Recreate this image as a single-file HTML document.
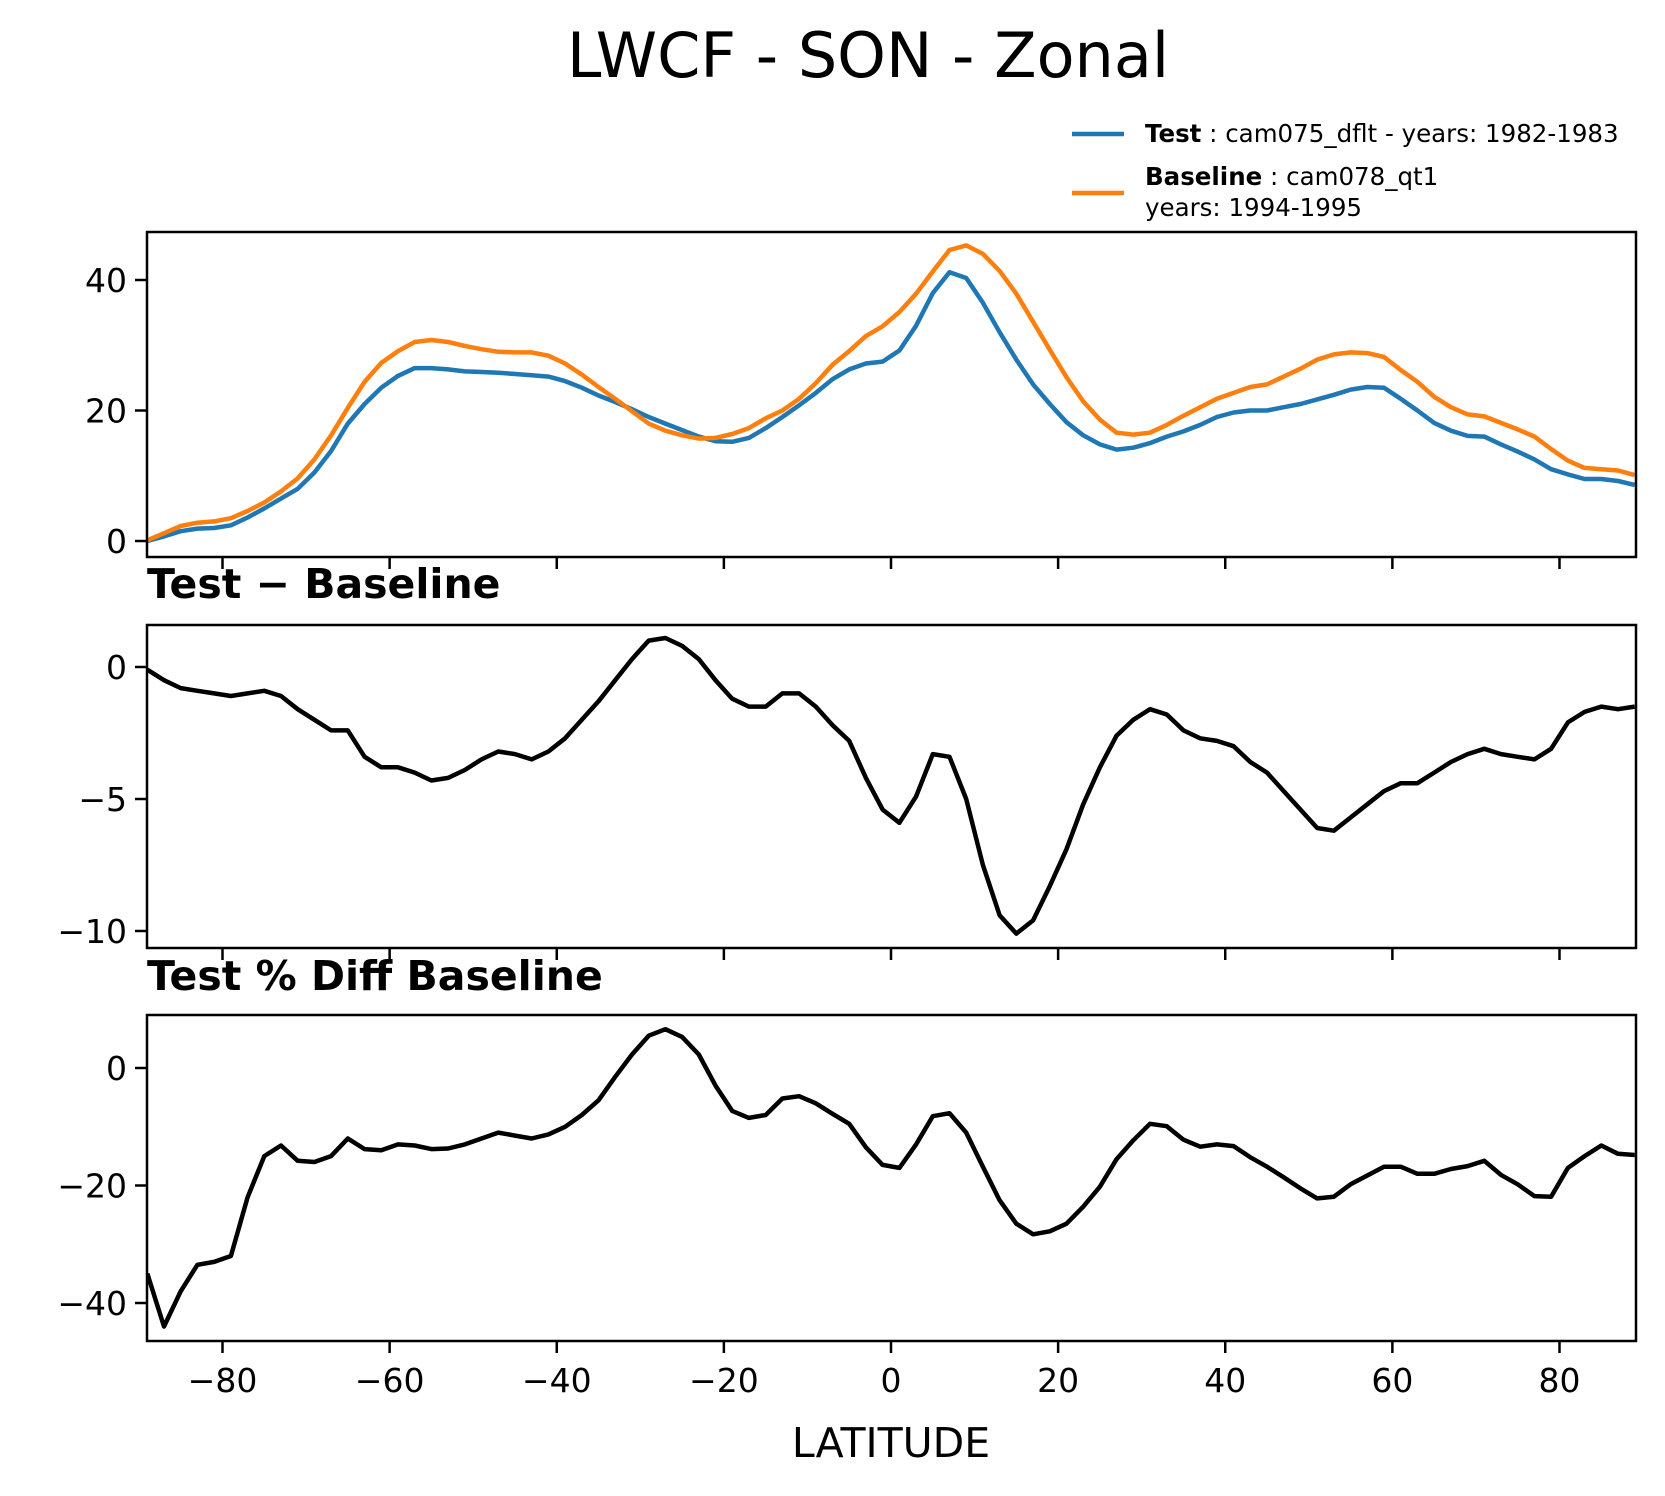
<!DOCTYPE html>
<html><head><meta charset="utf-8"><style>
body{margin:0;background:#fff}
svg{display:block;font-family:"DejaVu Sans","Liberation Sans",sans-serif}
</style></head><body>
<svg id="chart" width="1665" height="1496" viewBox="0 0 1665 1496">
<rect width="1665" height="1496" fill="#fff"/>
<text x="868" y="77" font-size="62" text-anchor="middle">LWCF - SON - Zonal</text>
<g>
<line x1="1072" y1="134" x2="1124" y2="134" stroke="#1f77b4" stroke-width="4.5"/>
<text x="1145" y="142" font-size="24.5"><tspan font-weight="bold">Test</tspan> : cam075_dflt - years: 1982-1983</text>
<line x1="1072" y1="193" x2="1124" y2="193" stroke="#ff7f0e" stroke-width="4.5"/>
<text x="1145" y="185" font-size="24.5"><tspan font-weight="bold">Baseline</tspan> : cam078_qt1</text>
<text x="1145" y="216" font-size="24.5">years: 1994-1995</text>
</g>
<text x="147" y="598" font-size="41" font-weight="bold">Test − Baseline</text>
<text x="147" y="990" font-size="41" font-weight="bold">Test % Diff Baseline</text>
<text x="891" y="1457" font-size="41" text-anchor="middle">LATITUDE</text>
<g id="plots"></g>
</svg>
<script>
const lats = [-89,-87,-85,-83,-81,-79,-77,-75,-73,-71,-69,-67,-65,-63,-61,-59,-57,-55,-53,-51,-49,-47,-45,-43,-41,-39,-37,-35,-33,-31,-29,-27,-25,-23,-21,-19,-17,-15,-13,-11,-9,-7,-5,-3,-1,1,3,5,7,9,11,13,15,17,19,21,23,25,27,29,31,33,35,37,39,41,43,45,47,49,51,53,55,57,59,61,63,65,67,69,71,73,75,77,79,81,83,85,87,89];
const testVals = [0,0.7,1.5,1.9,2.0,2.4,3.6,5.0,6.5,8.0,10.5,13.8,18,21,23.5,25.3,26.5,26.5,26.3,26.0,25.9,25.8,25.6,25.4,25.2,24.5,23.5,22.3,21.3,20.2,19.0,18.0,17.0,16.0,15.3,15.2,15.8,17.3,19.0,20.8,22.7,24.8,26.3,27.2,27.5,29.2,33,38,41.2,40.3,36.5,32,27.8,24,21,18.2,16.2,14.8,14.0,14.3,15.0,16.0,16.8,17.8,19.0,19.7,20.0,20.0,20.5,21.0,21.7,22.4,23.2,23.6,23.5,21.8,20,18.1,16.9,16.1,16.0,14.8,13.7,12.5,11,10.2,9.5,9.5,9.2,8.6];
const baseVals = [0.1,1.2,2.3,2.8,3.0,3.5,4.6,5.9,7.6,9.6,12.5,16.2,20.4,24.4,27.3,29.1,30.5,30.8,30.5,29.9,29.4,29.0,28.9,28.9,28.4,27.2,25.5,23.6,21.8,19.9,18.0,16.9,16.2,15.7,15.8,16.4,17.3,18.8,20.0,21.8,24.2,27.0,29.1,31.4,32.9,35.1,37.9,41.3,44.6,45.3,44.0,41.4,37.9,33.6,29.3,25.1,21.4,18.6,16.6,16.3,16.6,17.8,19.2,20.5,21.8,22.7,23.6,24.0,25.2,26.4,27.8,28.6,28.9,28.8,28.2,26.2,24.4,22.1,20.5,19.4,19.1,18.1,17.1,16.0,14.1,12.3,11.2,11.0,10.8,10.1];
const diffVals = [-0.1,-0.5,-0.8,-0.9,-1.0,-1.1,-1.0,-0.9,-1.1,-1.6,-2.0,-2.4,-2.4,-3.4,-3.8,-3.8,-4.0,-4.3,-4.2,-3.9,-3.5,-3.2,-3.3,-3.5,-3.2,-2.7,-2.0,-1.3,-0.5,0.3,1.0,1.1,0.8,0.3,-0.5,-1.2,-1.5,-1.5,-1.0,-1.0,-1.5,-2.2,-2.8,-4.2,-5.4,-5.9,-4.9,-3.3,-3.4,-5.0,-7.5,-9.4,-10.1,-9.6,-8.3,-6.9,-5.2,-3.8,-2.6,-2.0,-1.6,-1.8,-2.4,-2.7,-2.8,-3.0,-3.6,-4.0,-4.7,-5.4,-6.1,-6.2,-5.7,-5.2,-4.7,-4.4,-4.4,-4.0,-3.6,-3.3,-3.1,-3.3,-3.4,-3.5,-3.1,-2.1,-1.7,-1.5,-1.6,-1.5];
const pctVals = [-35,-44,-38,-33.5,-33,-32,-22,-15,-13.2,-15.8,-16,-15,-12,-13.8,-14,-13,-13.2,-13.8,-13.7,-13,-12,-11,-11.5,-12,-11.3,-10,-8,-5.5,-1.5,2.3,5.5,6.6,5.3,2.3,-3.0,-7.3,-8.5,-8,-5.2,-4.8,-6,-7.8,-9.5,-13.5,-16.5,-17,-13,-8.2,-7.7,-11,-16.8,-22.5,-26.5,-28.3,-27.8,-26.5,-23.6,-20.2,-15.5,-12.3,-9.5,-9.9,-12.2,-13.4,-13,-13.3,-15.2,-16.8,-18.6,-20.5,-22.2,-21.9,-19.8,-18.3,-16.8,-16.8,-18,-18,-17.2,-16.7,-15.8,-18.2,-19.8,-21.8,-21.9,-17,-15,-13.2,-14.6,-14.8];
const xTicks = [-80,-60,-40,-20,0,20,40,60,80];
const yTicks1 = [0,20,40];
const yTicks2 = [0,-5,-10];
const yTicks3 = [0,-20,-40];

const NS = "http://www.w3.org/2000/svg";
const root = document.getElementById('plots');
const L = 147, R = 1636;
function xs(v){ return 891 + v * (1560 - 223) / 160; }
function mk(tag, attrs, parent){ const e = document.createElementNS(NS, tag); for (const k in attrs) e.setAttribute(k, attrs[k]); (parent || root).appendChild(e); return e; }

function panel(name, top, bot, yZero, yRefPx, vRef, yTicks, series, showXLabels){
  const ys = v => yZero - v * (yZero - yRefPx) / vRef;
  const g = mk('g', {});
  
  
  const clipId = 'clip-' + name;
  const cp = mk('clipPath', {id: clipId}, g);
  mk('rect', {x: L, y: top, width: R - L, height: bot - top}, cp);
  series.forEach(s => {
    const d = lats.map((la, i) => (i ? 'L' : 'M') + xs(la).toFixed(1) + ',' + ys(s.vals[i]).toFixed(1)).join('');
    const p = mk('path', {d: d, fill: 'none', stroke: s.color, 'stroke-width': 4.5, 'stroke-linejoin': 'round', 'clip-path': 'url(#' + clipId + ')'}, g);
    
    
  });
  const frame = mk('rect', {x: L, y: top, width: R - L, height: bot - top, fill: 'none', stroke: '#000', 'stroke-width': 2.5}, g);
  
  
  yTicks.forEach(t => {
    const y = ys(t);
    mk('line', {x1: L - 12, x2: L, y1: y, y2: y, stroke: '#000', 'stroke-width': 2.5}, g);
    const tx = mk('text', {x: L - 20, y: y + 12, 'font-size': 33, 'text-anchor': 'end'}, g);
    tx.textContent = t < 0 ? '−' + Math.abs(t) : String(t);
    
    
  });
  xTicks.forEach(t => {
    const x = xs(t);
    mk('line', {x1: x, x2: x, y1: bot, y2: bot + 12, stroke: '#000', 'stroke-width': 2.5}, g);
    if (showXLabels) {
      const tx = mk('text', {x: x, y: bot + 51, 'font-size': 33, 'text-anchor': 'middle'}, g);
      tx.textContent = t < 0 ? '−' + Math.abs(t) : String(t);
      
      
    }
  });
}
panel('zonal-mean-panel', 232, 557, 541, 280, 40, yTicks1,
  [{vals: testVals, color: '#1f77b4', name: 'test-line'}, {vals: baseVals, color: '#ff7f0e', name: 'baseline-line'}], false);
panel('difference-panel', 625, 948, 667, 931, -10, yTicks2,
  [{vals: diffVals, color: '#000', name: 'difference-line'}], false);
panel('percent-diff-panel', 1015, 1341, 1068, 1303, -40, yTicks3,
  [{vals: pctVals, color: '#000', name: 'percent-diff-line'}], true);
</script>
</body></html>
